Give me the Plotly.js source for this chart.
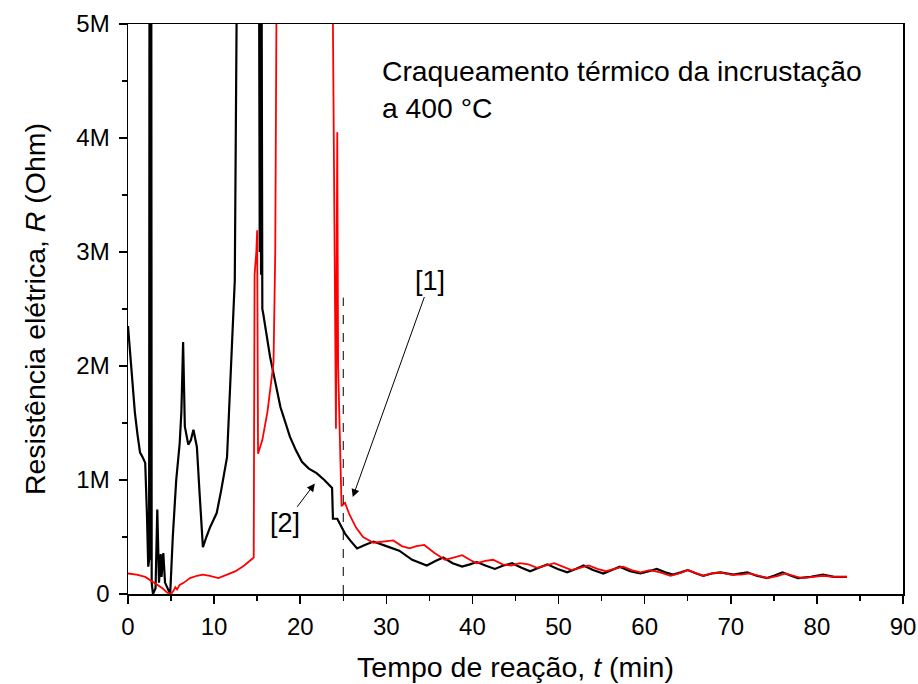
<!DOCTYPE html>
<html>
<head>
<meta charset="utf-8">
<script src="https://cdn.plot.ly/plotly-3.0.1.min.js"></script>
<style>html,body{margin:0;padding:0;background:#fff;}#chart{width:918px;height:684px;}</style>
</head>
<body>
<div id="chart"></div>
<script>
// Time (min)
const blackT = [0,0.4,0.8,1.1,1.4,1.7,2.0,2.2,2.35,2.45,2.5,2.55,2.6,2.65,2.7,2.75,2.9,3.2,3.4,3.6,3.8,3.9,4.1,4.3,4.6,4.9,5.2,5.6,6.0,6.2,6.4,6.6,7.0,7.3,7.6,8.0,8.3,8.7,9.1,9.5,10.3,10.8,11.5,12.0,12.2,12.4,12.7,15.2,15.3,15.35,15.45,15.5,15.6,15.7,16.5,17.7,18.8,19.5,20.2,21,21.9,22.8,23.7,23.8,24.3,25.2,25.8,26.6,27.5,28.5,30.0,31.5,33.0,34.7,35.7,36.6,37.7,38.8,39.7,40.5,41.5,42.6,43.6,44.6,45.7,46.7,47.7,48.7,49.9,51,52,52.9,54,55.2,56.2,57.1,58.3,59.5,60.5,61.4,62.4,63.3,64.2,65,66,66.8,67.8,68.8,70.3,71.9,73,74.2,75,76,77,77.8,79.3,80.7,82,83.5];
// Resistance (MOhm)
const blackR = [2.35,1.95,1.59,1.4,1.24,1.2,1.15,0.7,0.24,0.3,6,0.3,6,0.3,6,0.1,0,0.05,0.74,0.1,0.35,0.15,0.36,0.1,0.05,0,0.5,1.0,1.32,1.6,2.21,1.47,1.31,1.35,1.44,1.29,0.9,0.41,0.5,0.58,0.71,0.9,1.2,2.0,2.46,2.75,6,6,3.0,6,2.8,6,2.5,2.46,2.08,1.64,1.38,1.26,1.16,1.1,1.06,1.0,0.93,0.66,0.66,0.53,0.47,0.40,0.43,0.46,0.42,0.38,0.30,0.25,0.29,0.32,0.27,0.24,0.26,0.28,0.25,0.22,0.25,0.27,0.23,0.20,0.23,0.26,0.22,0.19,0.22,0.25,0.21,0.18,0.21,0.24,0.20,0.18,0.20,0.22,0.19,0.17,0.19,0.21,0.18,0.16,0.18,0.19,0.17,0.19,0.16,0.14,0.16,0.19,0.16,0.14,0.15,0.17,0.15,0.15];

const redT = [0,1,2,3,4,4.6,5.0,5.3,5.5,5.7,6,6.5,7.2,8,8.7,9.5,10.5,11.5,12.5,13.5,14.2,14.6,14.7,14.9,15.0,15.05,15.1,15.6,16.2,16.9,17.1,17.3,23.7,24.15,24.3,24.4,24.8,25.2,25.7,26.5,27.3,28.5,29.7,30.8,31.8,32.7,33.5,34.4,35.6,36.8,37.8,38.8,39.7,40.5,41.5,42.4,43.5,44.5,45.5,46.5,47.5,48.5,49.5,50.5,51.5,52.5,53.5,54.5,55.5,56.5,57.5,58.5,59.5,60.6,61.8,63,64,65,66,66.8,67.8,68.8,70,71.2,72.2,73.3,74.3,75.5,76.3,77.3,78.2,79.5,80.7,82,83.5];
const redR = [0.18,0.17,0.15,0.1,0.05,0.01,0,0.03,0.06,0.04,0.08,0.1,0.14,0.16,0.17,0.16,0.14,0.17,0.2,0.25,0.29,0.32,2.8,3.0,3.19,1.4,1.23,1.35,1.6,2.03,3.0,6,6,1.45,4.05,2.0,0.77,0.8,0.7,0.58,0.5,0.45,0.46,0.47,0.42,0.40,0.42,0.43,0.36,0.30,0.32,0.34,0.30,0.27,0.29,0.30,0.26,0.25,0.27,0.26,0.23,0.25,0.27,0.24,0.21,0.23,0.25,0.22,0.20,0.22,0.24,0.21,0.19,0.21,0.19,0.16,0.18,0.21,0.18,0.16,0.18,0.19,0.17,0.17,0.18,0.16,0.14,0.16,0.18,0.16,0.14,0.15,0.16,0.15,0.15];

const xTicks = [0,10,20,30,40,50,60,70,80,90];
const yTicks = [0,1,2,3,4,5];
const yTickText = ['0','1M','2M','3M','4M','5M'];

const FONT = 'Liberation Sans, Arial, sans-serif';

const traces = [
  {x: blackT, y: blackR, type: 'scatter', mode: 'lines', line: {color: '#000000', width: 2.2}, hoverinfo: 'skip'},
  {x: redT, y: redR, type: 'scatter', mode: 'lines', line: {color: '#ff0000', width: 1.8}, hoverinfo: 'skip'}
];

const axisCommon = {
  showline: true, linecolor: '#000', linewidth: 1.5, mirror: true,
  ticks: 'outside', ticklen: 8, tickwidth: 1.5, tickcolor: '#000',
  showgrid: false, zeroline: false,
  tickfont: {family: FONT, size: 24, color: '#000'}
};

const layout = {
  width: 918, height: 684,
  margin: {l: 128, r: 15, t: 24, b: 90},
  paper_bgcolor: '#fff', plot_bgcolor: '#fff',
  showlegend: false,
  font: {family: FONT, color: '#000'},
  xaxis: Object.assign({}, axisCommon, {
    range: [0, 90], tickmode: 'array', tickvals: xTicks, ticklabelstandoff: 3,
    minor: {dtick: 5, tick0: 0, ticks: 'outside', ticklen: 5, tickwidth: 1.5, tickcolor: '#000'},
    title: {text: 'Tempo de reação, <i>t</i> (min)', font: {family: FONT, size: 28.5, color: '#000'}, standoff: 18}
  }),
  yaxis: Object.assign({}, axisCommon, {
    range: [0, 5], tickmode: 'array', tickvals: yTicks, ticktext: yTickText, ticklabelstandoff: 4,
    minor: {dtick: 0.5, tick0: 0, ticks: 'outside', ticklen: 5, tickwidth: 1.5, tickcolor: '#000'},
    title: {text: 'Resistência elétrica, <i>R</i> (Ohm)', font: {family: FONT, size: 28.5, color: '#000'}, standoff: 22}
  }),
  shapes: [
    {type: 'line', xref: 'x', yref: 'y', x0: 25, x1: 25, y0: 0, y1: 2.6, line: {color: '#000', width: 1, dash: 'dash'}}
  ],
  annotations: [
    {xref: 'x', yref: 'y', x: 29.3, y: 4.75, xanchor: 'left', yanchor: 'top', align: 'left', showarrow: false,
     text: 'Craqueamento térmico da incrustação<br>a 400 °C', font: {family: FONT, size: 28.3, color: '#000'}},
    {xref: 'x', yref: 'y', axref: 'x', ayref: 'y', x: 26.1, y: 0.85, ax: 35.1, ay: 2.75, text: '[1]',
     showarrow: true, arrowhead: 2, arrowsize: 1.6, arrowwidth: 1, arrowcolor: '#000', standoff: 0,
     font: {family: FONT, size: 27, color: '#000'}},
    {xref: 'x', yref: 'y', axref: 'x', ayref: 'y', x: 21.7, y: 0.97, ax: 18.2, ay: 0.62, text: '[2]',
     showarrow: true, arrowhead: 2, arrowsize: 1.6, arrowwidth: 1, arrowcolor: '#000', standoff: 0,
     font: {family: FONT, size: 27, color: '#000'}}
  ]
};

Plotly.newPlot('chart', traces, layout, {staticPlot: true, displayModeBar: false});
</script>
</body>
</html>
